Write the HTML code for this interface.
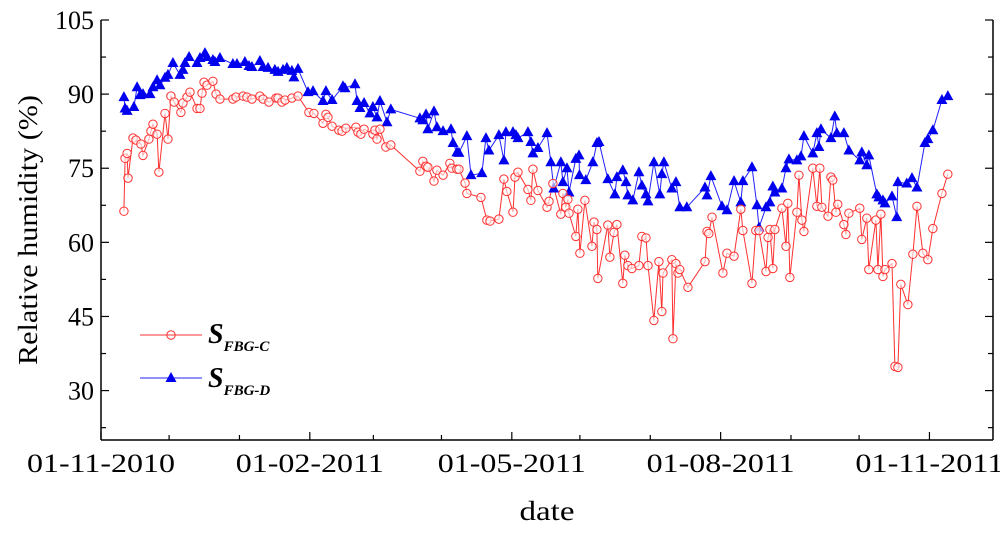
<!DOCTYPE html>
<html><head><meta charset="utf-8"><style>
html,body{margin:0;padding:0;background:#fff;}
svg text{font-family:"Liberation Serif",serif;fill:#000;}
</style></head><body>
<svg id="chart" width="1000" height="530" viewBox="0 0 1000 530" xmlns="http://www.w3.org/2000/svg">
<g id="axes"></g>
<g id="series"></g>
<g id="legend">
  <line x1="140" y1="335" x2="202" y2="335" stroke="#ff3030" stroke-width="1"/>
  <circle cx="171" cy="335" r="4.2" fill="none" stroke="#ff3030" stroke-width="1"/>
  <text x="208" y="343" font-size="28" font-weight="bold" font-style="italic">S<tspan font-size="15" dy="8">FBG-C</tspan></text>
  <line x1="140" y1="378" x2="202" y2="378" stroke="#2020ff" stroke-width="1"/>
  <path d="M171,372 L176.5,382 L165.5,382 Z" fill="#0000ee"/>
  <text x="208" y="387" font-size="28" font-weight="bold" font-style="italic">S<tspan font-size="15" dy="8">FBG-D</tspan></text>
</g>
<text transform="translate(37,230) rotate(-90)" text-anchor="middle" font-size="27" textLength="270" lengthAdjust="spacingAndGlyphs">Relative humidity (%)</text>
<text x="547" y="520" text-anchor="middle" font-size="27" textLength="55" lengthAdjust="spacingAndGlyphs">date</text>
</svg>
<script>
const xTickLabels = ["01-11-2010","01-02-2011","01-05-2011","01-08-2011","01-11-2011"];
const xTickDays = [0, 92, 181, 273, 365];
const xMinorDays = [30, 61, 120, 150, 211, 242, 304, 334];
const yTicks = [30, 45, 60, 75, 90, 105];
const yMinor = [22.5, 37.5, 52.5, 67.5, 82.5, 97.5];

const daysC = [10.1,10.6,11.5,11.9,14.1,15.4,17.6,18.5,21.1,22.0,22.9,24.7,25.5,28.2,29.5,30.8,32.2,35.2,36.1,37.9,39.2,42.3,43.6,44.5,45.4,46.7,49.3,50.7,52.4,58.1,59.5,62.6,64.3,66.5,70.0,71.4,74.0,77.1,78.0,79.7,81.1,84.1,86.8,91.6,93.8,97.8,99.1,100.0,101.8,104.8,106.2,107.9,112.3,113.2,114.5,115.9,119.8,120.7,121.6,122.9,125.5,127.7,140.5,141.8,143.2,144.0,146.7,148.0,150.7,153.7,154.6,156.8,157.7,160.4,161.2,167.4,170.0,171.4,175.3,177.5,178.8,181.5,182.4,183.7,188.1,189.4,190.3,192.5,196.5,197.4,199.1,202.6,203.5,204.8,205.7,206.2,209.2,210.1,211.0,213.2,216.3,217.2,218.5,218.9,223.3,224.2,226.0,227.3,229.9,230.8,232.1,233.9,237.0,238.3,240.1,241.0,243.6,245.8,247.1,247.6,251.5,252.0,253.3,254.2,255.0,258.6,266.1,267.0,267.8,269.2,274.0,275.8,278.9,281.9,282.8,286.8,288.5,289.9,293.0,293.9,294.7,296.0,296.9,300.0,301.8,302.6,303.5,306.6,307.5,308.8,309.7,313.6,315.4,316.7,317.6,320.3,321.6,322.4,323.8,324.6,327.3,328.2,329.5,334.3,335.2,337.4,338.3,341.4,342.3,343.6,344.5,345.4,348.5,349.8,351.1,352.4,355.5,357.7,359.5,362.1,364.3,366.5,370.5,373.1];
const valuesC = [66.3,77.0,78.0,73.0,81.1,80.7,79.9,77.6,80.9,82.5,83.9,81.9,74.2,86.1,80.9,89.6,88.4,86.3,88.2,89.4,90.4,87.1,87.1,90.2,92.4,91.8,92.6,90.0,89.0,89.0,89.4,89.6,89.4,89.0,89.6,89.0,88.4,89.2,89.2,88.4,88.8,89.2,89.6,86.3,86.1,84.1,85.9,85.3,83.5,82.7,82.5,83.1,83.3,82.3,81.9,82.9,81.9,82.7,80.9,82.9,79.3,79.7,74.4,76.4,75.4,75.2,72.4,74.6,73.6,76.0,75.0,74.8,74.8,72.0,69.9,69.1,64.5,64.3,64.7,72.8,70.3,66.1,73.2,74.2,70.7,68.5,74.8,70.5,67.1,68.3,71.9,65.7,69.9,67.1,68.7,65.9,61.2,66.7,57.8,68.5,59.2,64.1,62.6,52.7,63.5,57.0,62.0,63.6,51.7,57.4,55.3,54.7,55.3,61.2,60.9,55.3,44.2,56.1,46.0,53.8,56.5,40.5,55.7,53.8,54.5,50.9,56.1,62.2,61.8,65.1,53.8,57.8,57.2,66.7,62.4,51.7,62.4,62.4,54.1,61.0,62.6,54.7,62.6,66.9,59.2,67.9,52.9,66.1,73.6,64.5,62.2,75.0,67.3,75.0,67.1,65.3,73.2,72.6,66.1,67.7,63.6,61.6,65.9,66.9,60.6,64.9,54.5,64.5,54.5,65.7,53.1,54.5,55.7,34.9,34.7,51.5,47.4,57.6,67.3,57.8,56.5,62.8,69.9,73.8];

const daysD = [10.1,10.6,11.5,14.5,15.9,17.2,18.5,21.6,22.9,24.7,26.0,28.2,29.5,31.7,34.8,36.1,37.0,38.8,42.3,43.6,45.8,46.7,49.3,50.2,52.4,58.1,59.9,63.4,65.2,66.5,70.0,71.4,73.6,76.6,78.0,80.2,81.9,84.1,85.0,86.8,91.2,93.4,97.8,99.1,101.8,106.6,107.5,111.9,112.8,114.1,115.9,118.5,119.8,121.6,122.9,126.0,127.7,140.5,141.8,143.2,144.0,146.7,148.0,150.7,154.2,155.1,156.8,157.7,161.2,163.0,167.8,169.6,170.9,175.3,177.5,178.4,181.5,182.8,183.7,188.1,189.4,190.3,192.5,196.5,198.2,199.5,202.6,203.5,205.3,206.2,209.2,210.6,210.8,213.6,216.7,218.5,219.4,223.3,226.4,227.3,229.9,231.3,232.1,234.3,237.0,238.3,240.1,241.0,243.6,246.2,247.1,248.0,251.5,253.3,255.0,258.1,266.1,267.0,268.7,273.6,275.8,278.9,281.9,282.8,286.8,289.0,289.9,293.0,294.7,296.0,296.9,300.0,301.8,303.1,306.6,308.4,309.7,313.6,315.4,316.3,317.2,321.6,323.3,324.2,327.3,329.5,334.3,335.2,337.4,338.3,341.8,342.7,344.5,345.4,348.5,350.6,351.1,355.0,357.3,359.5,363.0,364.3,366.5,370.5,373.1];
const valuesD = [89.4,87.1,86.6,87.4,91.4,89.8,90.0,90.0,91.4,92.8,91.8,93.3,93.9,96.3,93.9,94.9,96.3,97.5,96.3,97.3,98.3,97.5,96.9,96.5,97.3,96.1,96.1,96.5,95.7,95.5,96.7,95.5,95.3,94.9,94.5,94.9,95.3,94.7,93.4,95.1,90.4,90.6,88.6,90.6,88.8,91.6,91.2,92.0,88.6,87.2,88.2,86.1,87.4,85.3,88.6,84.3,86.9,85.1,84.7,85.9,82.9,86.5,83.3,82.5,82.9,80.1,78.2,78.1,81.5,73.6,74.0,81.1,78.6,81.7,76.6,82.3,82.3,81.7,81.1,82.3,80.3,78.0,79.1,82.1,76.2,70.9,76.2,72.2,75.0,70.1,76.9,77.6,73.6,72.6,76.2,80.1,80.3,72.8,69.7,73.2,74.6,72.2,69.5,68.5,74.2,71.5,69.7,68.3,76.2,69.7,73.8,76.2,70.9,72.2,67.1,67.1,71.1,69.5,73.4,67.3,66.5,72.4,68.1,72.4,75.2,67.5,63.0,67.1,68.1,71.3,70.1,70.9,75.0,76.8,76.6,77.4,81.5,78.0,82.1,79.3,82.9,81.1,85.5,82.1,82.1,78.6,76.6,78.2,75.6,77.6,69.7,69.1,68.5,67.9,69.3,65.1,72.2,71.9,73.0,71.1,80.1,80.9,82.7,88.8,89.6];

const X0 = 101, X1 = 993, D0 = 0, D1 = 393;
const Y0 = 440, Y1 = 20, V0 = 20, V1 = 105;
function xs(d){ return X0 + (d - D0) / (D1 - D0) * (X1 - X0); }
function ys(v){ return Y0 - (v - V0) / (V1 - V0) * (Y0 - Y1); }
const NS = "http://www.w3.org/2000/svg";
function mk(tag, attrs, parent){ const e = document.createElementNS(NS, tag); for (const k in attrs) e.setAttribute(k, attrs[k]); parent.appendChild(e); return e; }

const axes = document.getElementById('axes');
const xl = mk('line', {x1:X0, y1:Y0, x2:X1, y2:Y0, stroke:'#000', 'stroke-width':1.5}, axes);


const yl = mk('line', {x1:X0, y1:Y0, x2:X0, y2:Y1, stroke:'#000', 'stroke-width':1.5}, axes);


const rl = mk('line', {x1:X1, y1:Y0, x2:X1, y2:Y1, stroke:'#000', 'stroke-width':1.5}, axes);



xTickDays.forEach((d, i) => {
  const x = xs(d);
  mk('line', {x1:x, y1:Y0, x2:x, y2:Y0-8, stroke:'#000', 'stroke-width':1.2}, axes);
  const t = mk('text', {x:x, y:472, 'text-anchor':'middle', 'font-size':26, textLength:148, lengthAdjust:'spacingAndGlyphs'}, axes);
  t.textContent = xTickLabels[i];
  
  
});
xMinorDays.forEach(d => { const x = xs(d); mk('line', {x1:x, y1:Y0, x2:x, y2:Y0-5, stroke:'#000', 'stroke-width':1.2}, axes); });
yTicks.forEach(v => {
  const y = ys(v);
  mk('line', {x1:X0, y1:y, x2:X0+8, y2:y, stroke:'#000', 'stroke-width':1.2}, axes);
  mk('line', {x1:X1, y1:y, x2:X1-8, y2:y, stroke:'#000', 'stroke-width':1.2}, axes);
  const t = mk('text', {x:X0-7, y:y+9, 'text-anchor':'end', 'font-size':26}, axes);
  t.textContent = v;
  
  
});
yMinor.forEach(v => {
  const y = ys(v);
  mk('line', {x1:X0, y1:y, x2:X0+5, y2:y, stroke:'#000', 'stroke-width':1.2}, axes);
  mk('line', {x1:X1, y1:y, x2:X1-5, y2:y, stroke:'#000', 'stroke-width':1.2}, axes);
});

const series = document.getElementById('series');
function pts(days, vals){ return days.map((d, i) => xs(d).toFixed(1) + ',' + ys(vals[i]).toFixed(1)).join(' '); }
const lc = mk('polyline', {points:pts(daysC, valuesC), fill:'none', stroke:'#ff3030', 'stroke-width':1}, series);


const ld = mk('polyline', {points:pts(daysD, valuesD), fill:'none', stroke:'#2020ff', 'stroke-width':1}, series);


daysD.forEach((d, i) => {
  const x = xs(d), y = ys(valuesD[i]);
  const p = mk('path', {d:`M${x},${y-6} L${x+5.5},${y+4} L${x-5.5},${y+4} Z`, fill:'#0000ee'}, series);
  
  
});
daysC.forEach((d, i) => {
  const c = mk('circle', {cx:xs(d), cy:ys(valuesC[i]), r:4.2, fill:'#fff', 'fill-opacity':0.6, stroke:'#ff3030', 'stroke-width':1}, series);
  
  
});
</script>
</body></html>
